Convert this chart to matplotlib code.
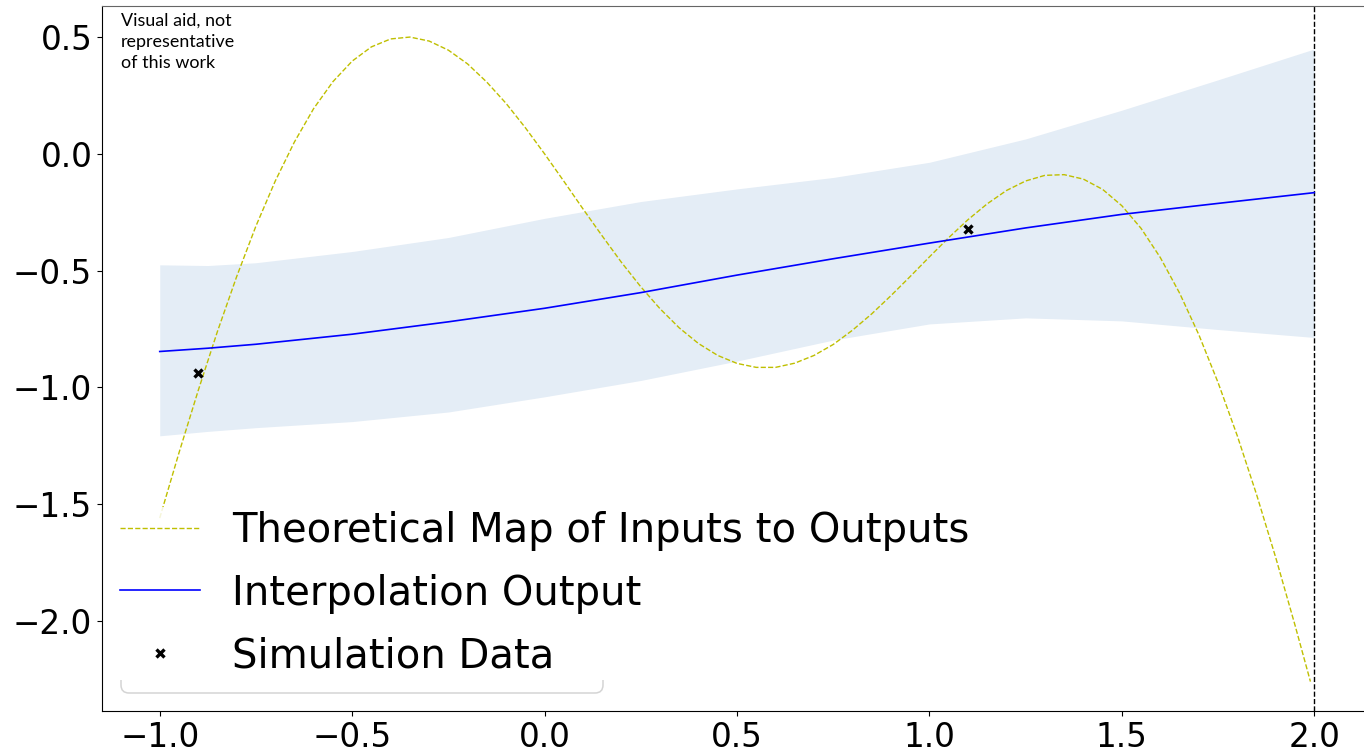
import matplotlib.pyplot as plt
from matplotlib.patches import FancyBboxPatch, Rectangle
from matplotlib.transforms import IdentityTransform

# theoretical input -> output map
x_true = [-1.00, -0.95, -0.90, -0.85, -0.80, -0.75, -0.70, -0.65, -0.60, -0.55,
          -0.50, -0.45, -0.40, -0.35, -0.30, -0.25, -0.20, -0.15, -0.10, -0.05,
          0.00, 0.05, 0.10, 0.15, 0.20, 0.25, 0.30, 0.35, 0.40, 0.45,
          0.50, 0.55, 0.60, 0.65, 0.70, 0.75, 0.80, 0.85, 0.90, 0.95,
          1.00, 1.05, 1.10, 1.15, 1.20, 1.25, 1.30, 1.35, 1.40, 1.45,
          1.50, 1.55, 1.60, 1.65, 1.70, 1.75, 1.80, 1.85, 1.90, 1.95, 1.99]
y_true = [-1.559, -1.280, -1.013, -0.760, -0.525, -0.309, -0.117, 0.051, 0.194, 0.309,
          0.397, 0.458, 0.492, 0.500, 0.483, 0.444, 0.385, 0.307, 0.216, 0.112,
          0.000, -0.117, -0.236, -0.352, -0.465, -0.569, -0.663, -0.745, -0.812, -0.863,
          -0.897, -0.914, -0.914, -0.896, -0.863, -0.816, -0.755, -0.685, -0.607, -0.525,
          -0.441, -0.359, -0.282, -0.214, -0.157, -0.116, -0.092, -0.089, -0.108, -0.152,
          -0.222, -0.319, -0.444, -0.596, -0.774, -0.979, -1.207, -1.458, -1.729, -2.018, -2.259]

# interpolation mean and its band
x_fit = [-1.00, -0.875, -0.75, -0.50, -0.25, 0.00, 0.25, 0.50, 0.75, 1.00, 1.25, 1.50, 1.75, 2.00]
y_fit = [-0.846, -0.832, -0.815, -0.772, -0.719, -0.661, -0.594, -0.519, -0.449, -0.382, -0.317, -0.259, -0.212, -0.166]
y_upper = [-0.475, -0.478, -0.466, -0.418, -0.358, -0.276, -0.204, -0.150, -0.101, -0.036, 0.064, 0.187, 0.317, 0.449]
y_lower = [-1.207, -1.188, -1.172, -1.146, -1.105, -1.040, -0.970, -0.887, -0.797, -0.728, -0.702, -0.715, -0.752, -0.786]

# simulation samples
x_sim = [-0.90, 1.10]
y_sim = [-0.94, -0.32]

x_bound = 2.0

W, H = 1364, 754
fig = plt.figure(figsize=(W / 100, H / 100), dpi=100)
ax = fig.add_axes([102 / W, 1 - 711 / H, (1372 - 102) / W, (711 - 6) / H])

ax.fill_between(x_fit, y_lower, y_upper, color="#e4edf6", lw=0, zorder=1)
ax.plot(x_true, y_true, "y--", lw=1.0, label="Theoretical Map of Inputs to Outputs", zorder=2)
ax.plot(x_fit, y_fit, "b-", lw=1.2, label="Interpolation Output", zorder=3)
ax.plot(x_sim, y_sim, "kx", ms=6, mew=2.4, ls="none", label="Simulation Data", zorder=4)
ax.axvline(x_bound, color="k", ls="--", lw=1, zorder=2)

ax.set_xlim(-1.15, 2.15)
ax.set_ylim(-2.385, 0.633)
ax.set_xticks([-1.0, -0.5, 0.0, 0.5, 1.0, 1.5, 2.0])
ax.set_yticks([0.5, 0.0, -0.5, -1.0, -1.5, -2.0])
ax.tick_params(labelsize=23.5)
ax.spines["right"].set_visible(False)
ax.spines["top"].set_color("#666666")

# legend backdrop (pixel coords), only its lower rim is drawn
px = IdentityTransform()
box_kw = dict(boxstyle="round,pad=0,rounding_size=8", transform=px, clip_on=False)
back = FancyBboxPatch((121, H - 693), 482, 186, fc="white", ec="none", alpha=0.85, zorder=5, **box_kw)
rim = FancyBboxPatch((121, H - 693), 482, 186, fc="none", ec="#d4d4d4", lw=1.1, zorder=5, **box_kw)
ax.add_artist(back)
ax.add_artist(rim)
rim.set_clip_on(True)
rim.set_clip_path(Rectangle((100, H - 700), 520, 20, transform=px))

leg = ax.legend(loc="upper left", bbox_to_anchor=(104 / W, 1 - 495 / H),
                bbox_transform=fig.transFigure, borderaxespad=0,
                fontsize=28.9, frameon=False, labelspacing=0.56)
leg.set_zorder(6)

fig.text(121 / W, 1 - 13 / H, "Visual aid, not\nrepresentative\nof this work",
         family="Lato", fontsize=12.9, va="top", ha="left", linespacing=1.38)

fig.savefig("out.png", dpi=100)
